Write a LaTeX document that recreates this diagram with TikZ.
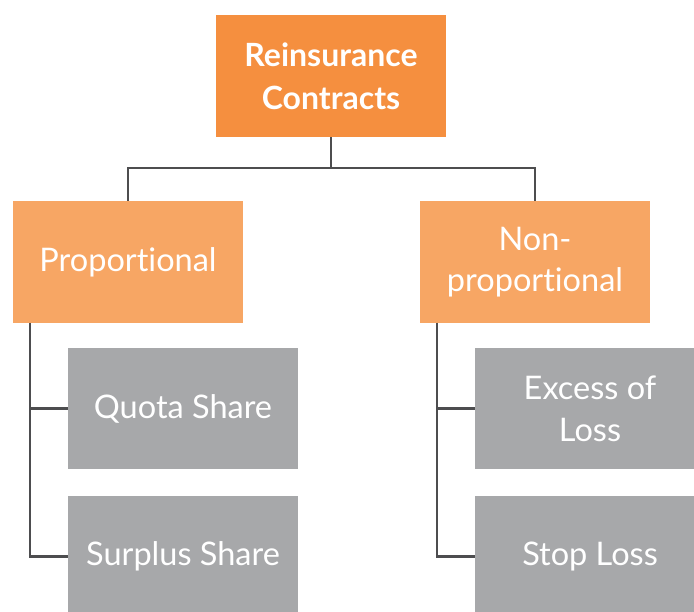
\documentclass[tikz,border=0pt]{standalone}
\usepackage{fontspec}
\setmainfont[Ligatures=NoCommon]{Lato}
\definecolor{topor}{HTML}{F58F3F}
\definecolor{midor}{HTML}{F7A664}
\definecolor{boxgray}{HTML}{A7A8AA}
\definecolor{linegray}{HTML}{4D4D4F}
\tikzset{
  base/.style={rectangle, inner sep=0pt, text=white, align=center},
  topbox/.style={base, fill=topor, minimum width=230pt, minimum height=122pt, font=\fontsize{32}{43}\selectfont\bfseries},
  midbox/.style={base, fill=midor, minimum width=230pt, minimum height=122pt, font=\fontsize{32.5}{41}\selectfont},
  leafbox/.style={base, fill=boxgray, minimum width=230pt, minimum height=121pt, font=\fontsize{32.5}{42}\selectfont},
  conn/.style={draw=linegray, line width=2.6pt}
}
\begin{document}
\begin{tikzpicture}[x=1pt,y=-1pt]
\useasboundingbox (0,0) rectangle (694,612);
\clip (0,0) rectangle (694,612);
\node[topbox] (root) at (331,76) {Reinsurance\\Contracts};
\node[midbox] (prop) at (128,262) {Proportional};
\node[midbox] (nonp) at (535,262) {Non-\\proportional};
\node[leafbox] (qs) at (183,408.5) {Quota Share};
\node[leafbox] (ss) at (183,556.5) {Surplus Share};
\node[leafbox] (xl) at (590,408.5) {Excess of\\Loss};
\node[leafbox] (sl) at (590,556.5) {Stop Loss};
\coordinate (hub) at (331,168);
\coordinate (pl) at (30,323);
\coordinate (nl) at (437,323);
\draw[conn] (root.south) -- (hub);
\draw[conn] (prop.north) |- (hub) -| (nonp.north);
\draw[conn] (pl) |- (qs.west);
\draw[conn] (pl) |- (ss.west);
\draw[conn] (nl) |- (xl.west);
\draw[conn] (nl) |- (sl.west);
\end{tikzpicture}
\end{document}
